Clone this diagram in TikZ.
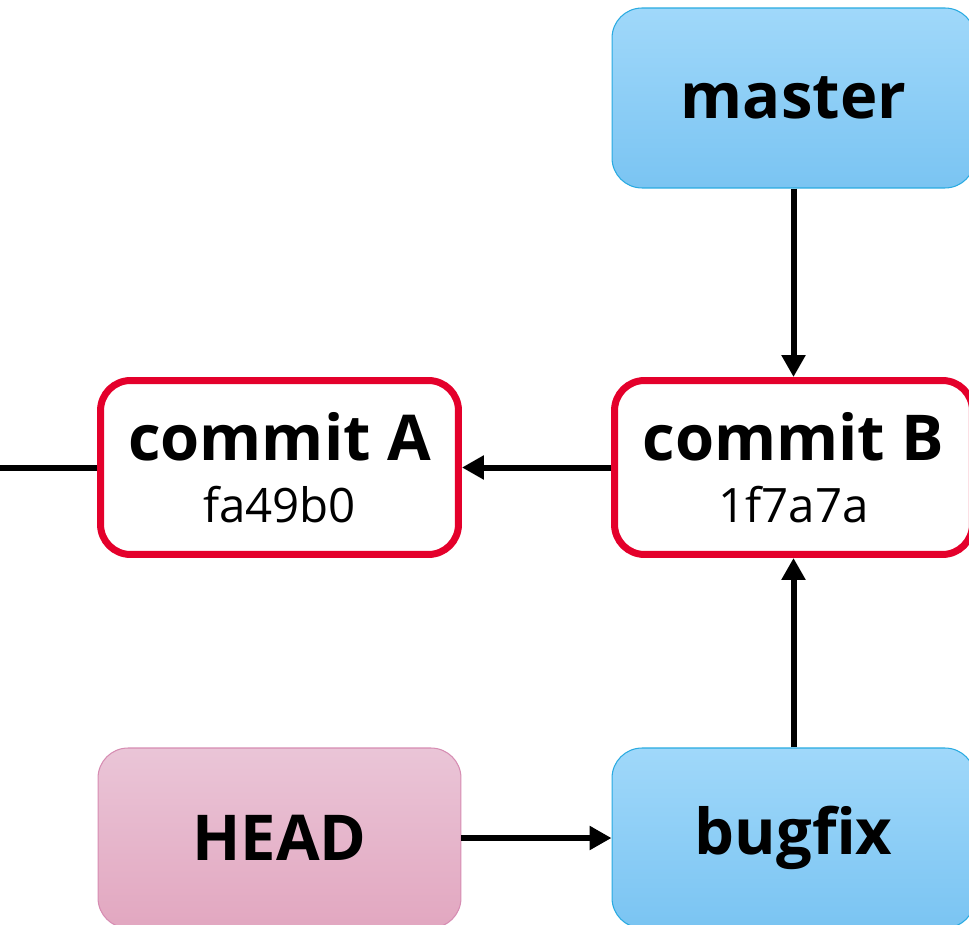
\documentclass[tikz,border=0pt]{standalone}
\usepackage{fontspec}
\setmainfont{Open Sans}
\usepackage{tikz}
\usetikzlibrary{arrows.meta,positioning}
\definecolor{commitred}{RGB}{228,0,43}
\definecolor{branchtop}{RGB}{160,216,250}
\definecolor{branchbot}{RGB}{122,196,242}
\definecolor{branchline}{RGB}{40,170,225}
\definecolor{headtop}{RGB}{234,197,215}
\definecolor{headbot}{RGB}{226,167,192}
\definecolor{headline}{RGB}{214,140,178}
\tikzstyle{commitbox}=[rectangle,rounded corners=0.6cm,draw=commitred,fill=white,
                       line width=0.14cm,minimum width=7.16cm,minimum height=3.48cm,inner sep=0pt]
\tikzstyle{branchbox}=[rectangle,rounded corners=0.6cm,draw=branchline,line width=0.6pt,
                       top color=branchtop,bottom color=branchbot,
                       minimum width=7.26cm,minimum height=3.6cm,
                       font=\fontsize{36}{40}\selectfont\bfseries]
\tikzstyle{headbox}=[branchbox,draw=headline,top color=headtop,bottom color=headbot]
\tikzstyle{pointer}=[line width=0.12cm,-{Triangle[length=0.44cm,width=0.46cm]}]
\newcommand\commitlabel[2]{\parbox{7cm}{\centering\fontsize{27}{35.2}\selectfont
    {\fontsize{36}{35.2}\selectfont\bfseries #1}\\ #2}}

\begin{document}
\begin{tikzpicture}[x=0.02cm,y=-0.02cm]
    \useasboundingbox (0,0) rectangle (969,925);
    \clip (0,0) rectangle (969,925);
    % commits
    \node [commitbox] (commitA) at (279.5,467.5) {\commitlabel{commit A}{fa49b0}};
    \node [commitbox] (commitB) at (793.5,467.5) {\commitlabel{commit B}{1f7a7a}};
    % refs
    \node [branchbox] (master) at (793.5,98) {master};
    \node [branchbox] (bugfix) at (793.5,838) {bugfix};
    \node [headbox] (HEAD) at (279.5,838) {HEAD};
    \coordinate (older) at (-20,467.5);

    \draw [line width=0.12cm] (commitA.west) -- (older);
    \draw [pointer] (commitB.west) -- (commitA.east);
    \draw [pointer] (master.south) -- (commitB.north);
    \draw [pointer] (bugfix.north) -- (commitB.south);
    \draw [pointer] (HEAD.east) -- (bugfix.west);
\end{tikzpicture}
\end{document}
